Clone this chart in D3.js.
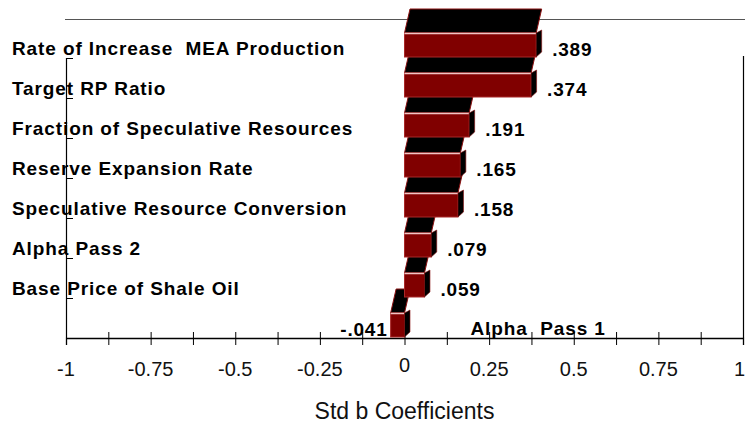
<!DOCTYPE html>
<html>
<head>
<meta charset="utf-8">
<script src="https://cdn.jsdelivr.net/npm/d3@7"></script>
<style>
  html, body { margin: 0; padding: 0; background: #fff; }
  svg { display: block; }
  text { font-family: "Liberation Sans", Arial, sans-serif; white-space: pre; }
</style>
</head>
<body>
<svg id="chart" width="745" height="428"></svg>
<script>
const categories = [
  "Rate of Increase  MEA Production",
  "Target RP Ratio",
  "Fraction of Speculative Resources",
  "Reserve Expansion Rate",
  "Speculative Resource Conversion",
  "Alpha Pass 2",
  "Base Price of Shale Oil",
  "Alpha  Pass 1"
];
const values = [0.389, 0.374, 0.191, 0.165, 0.158, 0.079, 0.059, -0.041];
const valueLabels = [".389", ".374", ".191", ".165", ".158", ".079", ".059", "-.041"];
const tickValues = [-1, -0.875, -0.75, -0.625, -0.5, -0.375, -0.25, -0.125, 0, 0.125, 0.25, 0.375, 0.5, 0.625, 0.75, 0.875, 1];
const tickLabelValues = [-1, -0.75, -0.5, -0.25, 0, 0.25, 0.5, 0.75, 1];
const tickLabels = ["-1", "-0.75", "-0.5", "-0.25", "0", "0.25", "0.5", "0.75", "1"];
const axisTitle = "Std b Coefficients";

const svg = d3.select("#chart");
const x = d3.scaleLinear().domain([-1, 1]).range([66, 743]);
const y = d3.scaleBand().domain(categories).range([18, 338]).padding(0);
const axisY = 338;

// top frame line
svg.append("line").attr("x1", 65).attr("x2", 745).attr("y1", 19.5).attr("y2", 19.5)
  .attr("stroke", "#555").attr("stroke-width", 1.2);

// left axis with row ticks
svg.append("line").attr("x1", 66.5).attr("x2", 66.5).attr("y1", 58).attr("y2", axisY)
  .attr("stroke", "#000").attr("stroke-width", 1.2);
categories.slice(1).forEach(c => {
  svg.append("line").attr("x1", 66).attr("x2", 73).attr("y1", y(c) + 0.5).attr("y2", y(c) + 0.5)
    .attr("stroke", "#000").attr("stroke-width", 1);
});
// right frame line
svg.append("line").attr("x1", 743.5).attr("x2", 743.5).attr("y1", 56).attr("y2", axisY)
  .attr("stroke", "#000").attr("stroke-width", 1.2);

// bottom axis
const axis = d3.axisBottom(x).tickValues(tickValues).tickSize(7).tickFormat("");
const gAxis = svg.append("g").attr("transform", `translate(0,${axisY})`).call(axis);
gAxis.select(".domain").attr("stroke", "#000").attr("stroke-width", 1.3);
gAxis.selectAll(".tick line").attr("y1", -6).attr("y2", 7).attr("stroke", "#000");

// tick labels
svg.append("g").selectAll("text").data(tickLabelValues).join("text")
  .attr("x", d => d === 1 ? 745 : x(d))
  .attr("y", d => d === 0 ? 372 : 376)
  .attr("text-anchor", d => d === 1 ? "end" : "middle")
  .attr("font-size", 20)
  .attr("fill", "#111")
  .text((d, i) => tickLabels[i]);

// axis title
svg.append("text").attr("x", x(0)).attr("y", 419).attr("text-anchor", "middle")
  .attr("font-size", 23).attr("fill", "#111").text(axisTitle);

// 3D bars, drawn from bottom row to top row
const dx = 5.5, dyTop = 24;
const bars = categories.map((c, i) => ({ c, v: values[i], i })).reverse();
const gBars = svg.append("g");
bars.forEach(b => {
  const x0 = x(Math.min(0, b.v)), x1 = x(Math.max(0, b.v));
  const yT = y(b.c) + 15, yB = y(b.c) + y.bandwidth() - 1;
  gBars.append("path")
    .attr("d", `M${x0},${yT}L${x1},${yT}L${x1 + dx},${yT - dyTop}L${x0 + dx},${yT - dyTop}Z`)
    .attr("fill", "#000").attr("stroke", "#8a1010").attr("stroke-width", 1);
  gBars.append("rect").attr("x", x0).attr("y", yT).attr("width", x1 - x0).attr("height", yB - yT)
    .attr("fill", "#800000").attr("stroke", "#a82828").attr("stroke-width", 1);
  gBars.append("line").attr("x1", x0).attr("x2", x1).attr("y1", yT + 0.5).attr("y2", yT + 0.5)
    .attr("stroke", "#f2c4c4").attr("stroke-width", 1.5);
  gBars.append("path")
    .attr("d", `M${x1},${yT}L${x1 + dx},${yT - 3}L${x1 + dx},${yB - 5}L${x1},${yB}Z`)
    .attr("fill", "#000").attr("stroke", "#8a1010").attr("stroke-width", 0.6);
});

// category labels
svg.append("g").selectAll("text").data(categories).join("text")
  .attr("x", (d, i) => values[i] < 0 ? x(0) + 66 : 12)
  .attr("y", d => y(d) + 37)
  .attr("font-size", 19).attr("font-weight", "bold")
  .attr("letter-spacing", 0.9)
  .attr("fill", "#000")
  .text(d => d);

// value labels
svg.append("g").selectAll("text").data(values).join("text")
  .attr("x", d => d < 0 ? x(d) - 3 : x(d) + 16)
  .attr("y", (d, i) => y(categories[i]) + 38)
  .attr("text-anchor", d => d < 0 ? "end" : "start")
  .attr("font-size", 19).attr("font-weight", "bold")
  .attr("letter-spacing", 0.8)
  .attr("fill", "#000")
  .text((d, i) => valueLabels[i]);
</script>
</body>
</html>
